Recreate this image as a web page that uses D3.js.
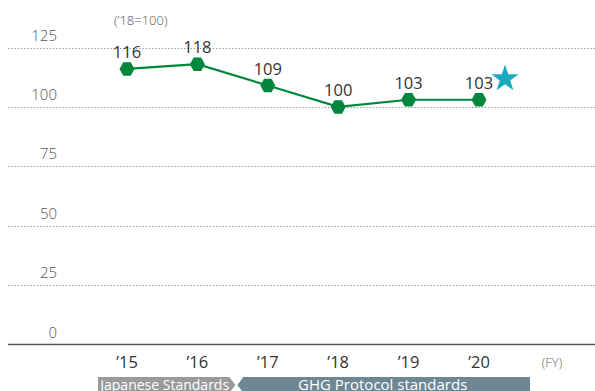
<!DOCTYPE html>
<html>
<head>
<meta charset="utf-8">
<script src="https://cdn.jsdelivr.net/npm/d3@7"></script>
<style>
  html, body { margin: 0; padding: 0; background: #fff; }
  svg { display: block; font-family: "Open Sans", "Noto Sans", sans-serif; }
</style>
</head>
<body>
<svg id="chart" width="595" height="391"></svg>
<script>
// Index values (FY2018 = 100)
const years = ["\u201915", "\u201916", "\u201917", "\u201918", "\u201919", "\u201920"];
const values = [116, 118, 109, 100, 103, 103];
const yTicks = [0, 25, 50, 75, 100, 125];
const bands = [
  { label: "Japanese Standards", from: 0, to: 1 },
  { label: "GHG Protocol standards", from: 2, to: 5 }
];

const svg = d3.select("#chart");

const x = d3.scalePoint().domain(years).range([127, 479]);
const y = d3.scaleLinear().domain([0, 125]).range([344.5, 47.5]);

// dotted horizontal gridlines
svg.append("g")
  .selectAll("line")
  .data(yTicks.filter(d => d > 0))
  .join("line")
  .attr("x1", 8).attr("x2", 595)
  .attr("y1", d => Math.round(y(d)) + 0.5)
  .attr("y2", d => Math.round(y(d)) + 0.5)
  .attr("stroke", "#8a8a8a")
  .attr("stroke-width", 1)
  .attr("stroke-dasharray", "1.2,2");

// baseline
svg.append("line")
  .attr("x1", 8).attr("x2", 595)
  .attr("y1", y(0)).attr("y2", y(0))
  .attr("stroke", "#555").attr("stroke-width", 1.5);

// y tick labels, sitting above their gridlines
svg.append("g")
  .selectAll("text")
  .data(yTicks)
  .join("text")
  .attr("x", 57)
  .attr("y", d => y(d) - 7)
  .attr("text-anchor", "end")
  .attr("font-size", 15)
  .attr("font-weight", 300)
  .attr("fill", "#555")
  .text(d => d);

// unit note
svg.append("text")
  .attr("x", 114).attr("y", 25)
  .attr("font-size", 13).attr("font-weight", 300)
  .attr("fill", "#555")
  .text("(\u201918=100)");

// x axis labels
svg.append("g")
  .selectAll("text")
  .data(years)
  .join("text")
  .attr("x", d => x(d))
  .attr("y", 368)
  .attr("text-anchor", "middle")
  .attr("font-size", 16.5)
  .attr("fill", "#333")
  .text(d => d);

svg.append("text")
  .attr("x", 552).attr("y", 367)
  .attr("text-anchor", "middle")
  .attr("font-size", 13).attr("font-weight", 300)
  .attr("fill", "#666")
  .text("(FY)");

// data line
const line = d3.line().x((d, i) => x(years[i])).y(d => y(d));
svg.append("path")
  .datum(values)
  .attr("d", line)
  .attr("fill", "none")
  .attr("stroke", "#00873c")
  .attr("stroke-width", 2.2);

// hexagonal markers (points left/right, flat top/bottom)
const hex = (w, h) => {
  const a = w / 2, b = h / 2, c = w / 4;
  return `M${-a},0L${-c},${-b}L${c},${-b}L${a},0L${c},${b}L${-c},${b}Z`;
};
svg.append("g")
  .selectAll("path")
  .data(values)
  .join("path")
  .attr("transform", (d, i) => `translate(${x(years[i])},${y(d)})`)
  .attr("d", hex(15, 13.5))
  .attr("fill", "#00873c");

// value labels
svg.append("g")
  .selectAll("text")
  .data(values)
  .join("text")
  .attr("x", (d, i) => x(years[i]))
  .attr("y", d => y(d) - 11)
  .attr("text-anchor", "middle")
  .attr("font-size", 16.5)
  .attr("fill", "#333")
  .text(d => d);

// star after the latest value
const star = d3.symbol().type(d3.symbolStar).size(230);
svg.append("path")
  .attr("d", star())
  .attr("transform", `translate(505,${y(values[5]) - 21})`)
  .attr("fill", "#1aa9bf");

// standards bands at the bottom
const bTop = 377, bBot = 393, bMid = (bTop + bBot) / 2;
const b0 = bands[0], b1 = bands[1];
const j0 = x(years[b0.from]) - 29, j1 = x(years[b0.to]) + 32;
svg.append("path")
  .attr("d", `M${j0},${bTop}L${j1},${bTop}L${j1 + 6},${bMid}L${j1},${bBot}L${j0},${bBot}Z`)
  .attr("fill", "#9a9a9a");
const g0 = j1 + 8, g1 = x(years[b1.to]) + 51;
svg.append("path")
  .attr("d", `M${g0},${bMid}L${g0 + 6},${bTop}L${g1},${bTop}L${g1},${bBot}L${g0 + 6},${bBot}Z`)
  .attr("fill", "#6e8792");
svg.append("text")
  .attr("x", (j0 + j1) / 2 + 1).attr("y", 390)
  .attr("text-anchor", "middle")
  .attr("font-size", 14).attr("fill", "#fff")
  .text(b0.label);
svg.append("text")
  .attr("x", (g0 + g1) / 2 - 1).attr("y", 390)
  .attr("text-anchor", "middle")
  .attr("font-size", 15).attr("fill", "#fff")
  .text(b1.label);
</script>
</body>
</html>
